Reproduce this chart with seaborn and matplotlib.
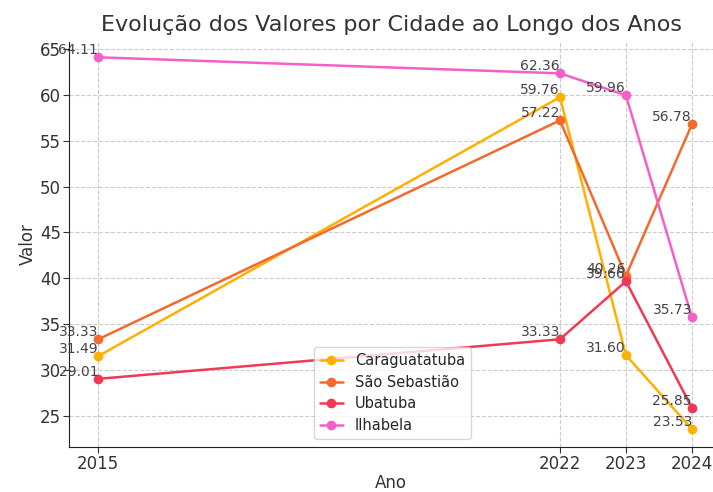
import pandas as pd
import matplotlib
matplotlib.use("Agg")
import matplotlib.pyplot as plt
import seaborn as sns

anos = [2015, 2022, 2023, 2024]
caraguatatuba = [31.49, 59.76, 31.60, 23.53]
sao_sebastiao = [33.33, 57.22, 40.26, 56.78]
ubatuba = [29.01, 33.33, 39.66, 25.85]
ilhabela = [64.11, 62.36, 59.96, 35.73]

cidades = ["Caraguatatuba", "São Sebastião", "Ubatuba", "Ilhabela"]
cores = ["#FFB000", "#F46A2C", "#F03A55", "#F55FC8"]

dados = pd.DataFrame({
    "Ano": anos * 4,
    "Valor": caraguatatuba + sao_sebastiao + ubatuba + ilhabela,
    "Cidade": [c for c in cidades for _ in anos],
})

sns.set_style("whitegrid", {"grid.linestyle": "--", "grid.color": "#cccccc"})
plt.rcParams["font.family"] = ["DejaVu Sans"]

fig, ax = plt.subplots(figsize=(7.13, 4.92), dpi=100)
sns.lineplot(data=dados, x="Ano", y="Valor", hue="Cidade", palette=cores,
             marker="o", markersize=7, markeredgewidth=0, linewidth=1.8, ax=ax)

for _, linha in dados.iterrows():
    ax.text(linha["Ano"], linha["Valor"], f"{linha['Valor']:.2f}",
            ha="right", va="bottom", fontsize=10, color="#444444")

ax.set_xticks(anos)
ax.set_xlim(2014.56, 2024.32)
ax.set_ylim(21.6, 65.8)
ax.set_title("Evolução dos Valores por Cidade ao Longo dos Anos", fontsize=16, color="#333333", pad=8)
ax.set_xlabel("Ano", fontsize=12, color="#333333", labelpad=1)
ax.set_ylabel("Valor", fontsize=12, color="#333333", labelpad=2)
ax.tick_params(labelsize=12, colors="#333333", length=4, pad=2, left=True, bottom=True)
for s in ["top", "right"]:
    ax.spines[s].set_visible(False)
for s in ["left", "bottom"]:
    ax.spines[s].set_color("#222222")
ax.legend(title=None, loc="lower left", bbox_to_anchor=(0.38, 0.02), borderaxespad=0,
          fontsize=10.5, handlelength=1.6, borderpad=0.4, labelspacing=0.45)

fig.subplots_adjust(left=0.097, right=1.0, top=0.915, bottom=0.092)
fig.savefig("out.png")
